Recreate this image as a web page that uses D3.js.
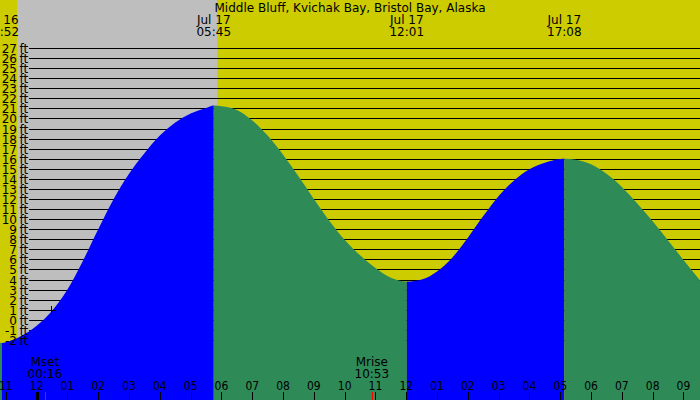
<!DOCTYPE html>
<html><head><meta charset="utf-8">
<script src="https://cdn.jsdelivr.net/npm/d3@7"></script>
<style>
body{margin:0;background:#fff}
svg{display:block}
text{font-family:"DejaVu Sans",sans-serif;font-size:12px;fill:#000}
.hr{font-family:"DejaVu Sans Condensed","DejaVu Sans",sans-serif;font-stretch:condensed}
</style>
</head><body>
<svg id="chart" width="700" height="400"></svg>
<script>
const title = "Middle Bluff, Kvichak Bay, Bristol Bay, Alaska";

// tide curve samples: hours relative to Jul 17 00:00, height in ft
const tideHours = [-1.19, -1.133, -1.0, -0.5, 0.0, 0.5, 1.0, 1.5, 2.0, 2.5, 3.0, 3.5, 4.0, 4.5, 5.0, 5.5, 5.75,
  6.0, 6.5, 7.0, 7.5, 8.0, 8.5, 9.0, 9.5, 10.0, 10.5, 11.0, 11.5, 12.017,
  12.5, 13.0, 13.5, 14.0, 14.5, 15.0, 15.5, 16.0, 16.5, 17.0, 17.133,
  17.5, 18.0, 18.5, 19.0, 19.5, 20.0, 20.5, 21.0, 21.5, 21.537];
const tideFeet = [-2.29, -2.3, -2.22, -1.62, -0.6, 0.9, 3.0, 5.85, 9.0, 12.0, 14.5, 16.55, 18.3, 19.6, 20.5, 21.05, 21.3,
  21.22, 20.85, 19.8, 18.3, 16.4, 14.25, 12.0, 9.85, 7.95, 6.4, 5.15, 4.18, 3.8,
  4.0, 4.8, 6.2, 8.15, 10.3, 12.3, 13.85, 14.95, 15.6, 15.97, 16.0,
  15.9, 15.45, 14.5, 13.2, 11.55, 9.8, 7.87, 5.95, 4.05, 3.9];

// high / low tide extremes
const extremeHours = [-1.133, 5.75, 12.017, 17.133];
const extremeTypes = ["low", "high", "low", "high"];
const extremeDates = ["Jul 16", "Jul 17", "Jul 17", "Jul 17"];
const extremeTimes = ["22:52", "05:45", "12:01", "17:08"];

// hour axis
const hourTicks = [-1,0,1,2,3,4,5,6,7,8,9,10,11,12,13,14,15,16,17,18,19,20,21];
const hourLabels = ["11","12","01","02","03","04","05","06","07","08","09","10","11","12","01","02","03","04","05","06","07","08","09"];

// feet axis
const ftTicks = [-2,-1,0,1,2,3,4,5,6,7,8,9,10,11,12,13,14,15,16,17,18,19,20,21,22,23,24,25,26,27];

// moon events
const moonNames = ["Mset", "Mrise"];
const moonTimes = ["00:16", "10:53"];
const moonHours = [0.267, 10.883];

// sun (night span)
const sunsetHour = -0.638, sunriseHour = 5.855;

// marker
const markerHour = 0.46, markerFeet = 1.0;

const W = 700, H = 400;
const svg = d3.select("#chart");
const x = d3.scaleLinear().domain([-1.19, 21.537]).range([0, W]);
const y = d3.scaleLinear().domain([0, 27]).range([319.8, 48]);

// background: day
svg.append("rect").attr("x", 0).attr("y", 0).attr("width", W).attr("height", H).attr("fill", "#cccc00");
// night
svg.append("rect").attr("x", Math.round(x(sunsetHour))).attr("y", 0)
  .attr("width", Math.round(x(sunriseHour)) - Math.round(x(sunsetHour))).attr("height", H).attr("fill", "#bebebe");

// grid lines
svg.append("g").selectAll("line").data(ftTicks).join("line")
  .attr("x1", 29).attr("x2", W)
  .attr("y1", d => Math.round(y(d)) + 0.5).attr("y2", d => Math.round(y(d)) + 0.5)
  .attr("stroke", "#000").attr("stroke-width", 1);

// tide area, colored by rising/falling
const pts = tideHours.map((t, i) => ({t, h: tideFeet[i]}));
const area = d3.area().x(d => x(d.t)).y0(H).y1(d => y(d.h)).curve(d3.curveMonotoneX);
const bounds = [x.domain()[0], ...extremeHours, x.domain()[1]];
const defs = svg.append("defs");
for (let i = 0; i < bounds.length - 1; i++) {
  const x0 = x(bounds[i]), x1 = x(bounds[i + 1]);
  defs.append("clipPath").attr("id", "seg" + i).append("rect")
    .attr("x", x0).attr("y", 0).attr("width", x1 - x0).attr("height", H);
  const endType = i < extremeTypes.length ? extremeTypes[i] : (extremeTypes[extremeTypes.length - 1] === "high" ? "low" : "high");
  svg.append("path").datum(pts).attr("d", area)
    .attr("clip-path", `url(#seg${i})`)
    .attr("fill", endType === "high" ? "#0000ff" : "#2e8b57");
}

// feet labels
const fl = svg.append("g");
fl.selectAll("text.n").data(ftTicks).join("text").attr("class", "n")
  .attr("x", 17).attr("y", d => Math.round(y(d)) + 5).attr("text-anchor", "end").text(d => d);
fl.selectAll("text.u").data(ftTicks).join("text").attr("class", "u")
  .attr("x", 19.5).attr("y", d => Math.round(y(d)) + 5).text("ft");

// title
svg.append("text").attr("x", 350).attr("y", 12).attr("text-anchor", "middle").text(title);

// extreme labels
const el = svg.append("g").selectAll("g").data(extremeHours).join("g");
el.append("text").attr("x", d => x(d)).attr("y", 24).attr("text-anchor", "middle").text((d, i) => extremeDates[i]);
el.append("text").attr("x", d => x(d)).attr("y", 36).attr("text-anchor", "middle").text((d, i) => extremeTimes[i]);

// moon labels
const ml = svg.append("g").selectAll("g").data(moonHours).join("g");
ml.append("text").attr("x", d => x(d)).attr("y", 366).attr("text-anchor", "middle").text((d, i) => moonNames[i]);
ml.append("text").attr("x", d => x(d)).attr("y", 378).attr("text-anchor", "middle").text((d, i) => moonTimes[i]);

// hour labels and ticks
svg.append("g").selectAll("text").data(hourTicks).join("text").attr("class", "hr")
  .attr("x", d => x(d)).attr("y", 390).attr("text-anchor", "middle").text((d, i) => hourLabels[i]);
svg.append("g").selectAll("line").data(hourTicks).join("line")
  .attr("x1", d => Math.round(x(d)) + 0.5).attr("x2", d => Math.round(x(d)) + 0.5)
  .attr("y1", 392).attr("y2", H)
  .attr("stroke", "#000").attr("stroke-width", d => d % 24 === 0 ? 3 : 1);
svg.append("g").selectAll("line").data(moonHours).join("line")
  .attr("x1", d => Math.round(x(d)) + 0.5).attr("x2", d => Math.round(x(d)) + 0.5)
  .attr("y1", 392).attr("y2", H).attr("stroke", "#ff0000").attr("stroke-width", 1);

// marker cross
const mx = Math.round(x(markerHour)) + 0.5, my = Math.round(y(markerFeet)) + 0.5;
svg.append("path").attr("d", `M${mx - 4.5},${my}H${mx + 4.5}M${mx},${my - 4.5}V${my + 4.5}`)
  .attr("stroke", "#000").attr("stroke-width", 1).attr("fill", "none");
</script>
</body></html>
